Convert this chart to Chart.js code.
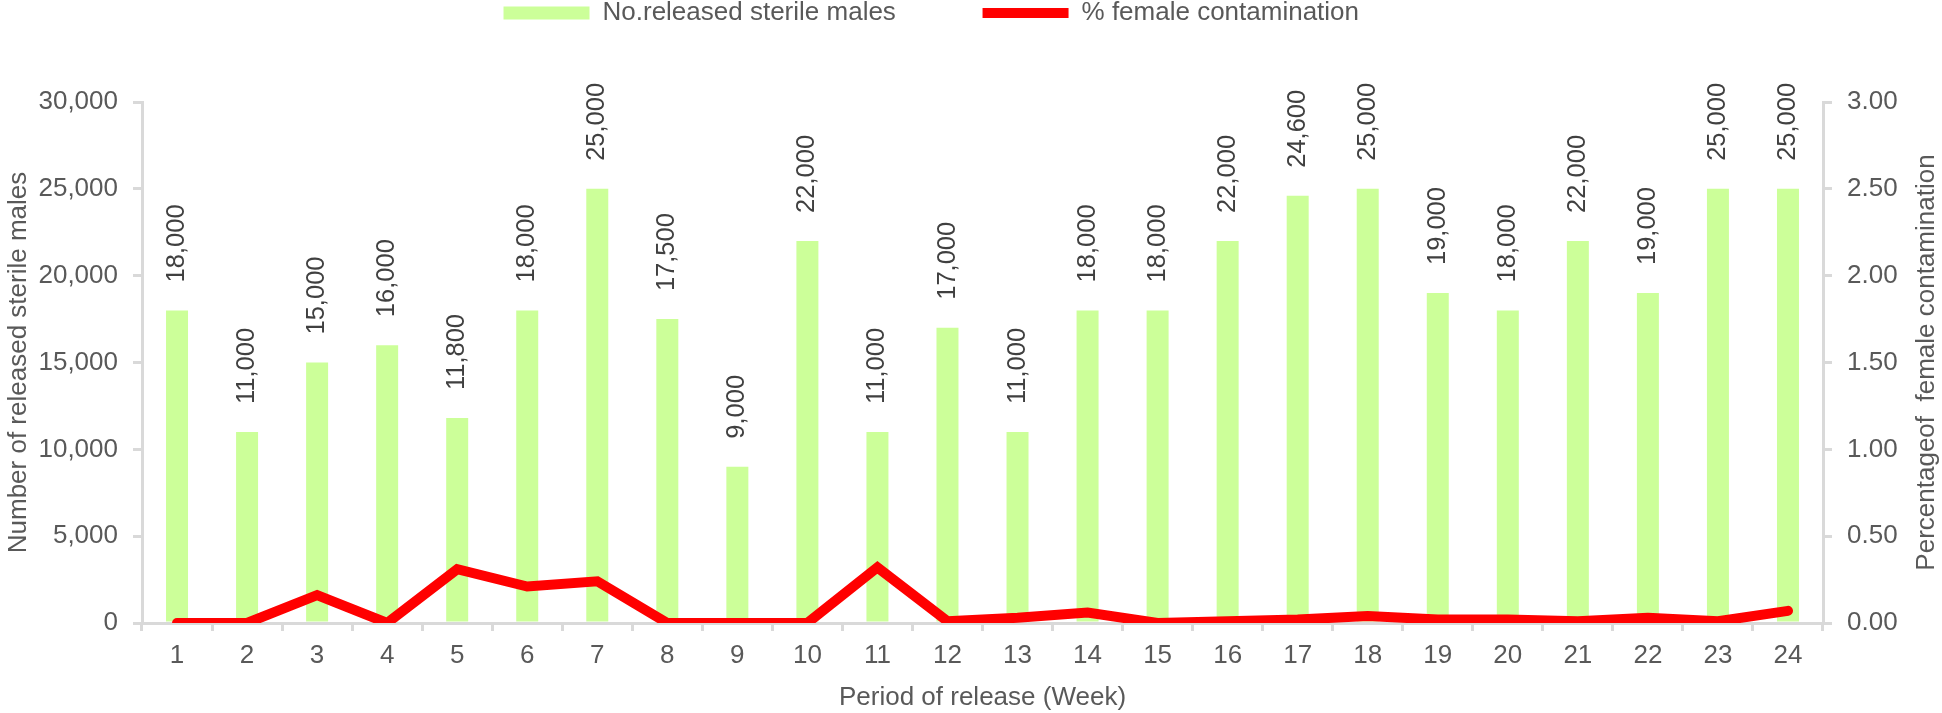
<!DOCTYPE html>
<html>
<head>
<meta charset="utf-8">
<script src="https://cdn.jsdelivr.net/npm/chart.js@4.4.1/dist/chart.umd.min.js"></script>
<style>
  html, body { margin: 0; padding: 0; background: #fff; }
  canvas { display: block; }
</style>
</head>
<body>
<canvas id="releaseChart" width="1942" height="713"></canvas>
<script>
// Weekly release data
const weeks = ['1', '2', '3', '4', '5', '6', '7', '8', '9', '10', '11', '12',
               '13', '14', '15', '16', '17', '18', '19', '20', '21', '22', '23', '24'];
const releasedMales = [18000, 11000, 15000, 16000, 11800, 18000, 25000, 17500, 9000, 22000, 11000, 17000,
                       11000, 18000, 18000, 22000, 24600, 25000, 19000, 18000, 22000, 19000, 25000, 25000];
const femaleContamination = [0, 0, 0.16, 0, 0.31, 0.21, 0.24, 0, 0, 0, 0.32, 0.01,
                             0.03, 0.06, 0, 0.01, 0.02, 0.04, 0.02, 0.02, 0.01, 0.03, 0.01, 0.07];
const seriesNames = ['No.released sterile males', '% female contamination'];

const textColor = '#595959';
const axisColor = '#d9d9d9';
Chart.defaults.font.family = '"Liberation Sans", Arial, Helvetica, sans-serif';
Chart.defaults.font.size = 26;
Chart.defaults.color = textColor;

// value labels above the bars, rotated
const barLabels = {
    id: 'barLabels',
    afterDatasetsDraw(chart) {
        const ctx = chart.ctx;
        const meta = chart.getDatasetMeta(0);
        ctx.save();
        ctx.fillStyle = '#404040';
        ctx.font = '25.5px "Liberation Sans", Arial, sans-serif';
        ctx.textAlign = 'left';
        ctx.textBaseline = 'middle';
        meta.data.forEach((bar, i) => {
            ctx.save();
            ctx.translate(bar.x, bar.y - 28);
            ctx.rotate(-Math.PI / 2);
            ctx.fillText(releasedMales[i].toLocaleString('en-US'), 0, 0);
            ctx.restore();
        });
        ctx.restore();
    }
};

// right axis title reads bottom-to-top like the left one
const rightTitle = {
    id: 'rightTitle',
    afterDraw(chart) {
        const ctx = chart.ctx;
        const scale = chart.scales.y1;
        const area = chart.chartArea;
        ctx.save();
        ctx.fillStyle = textColor;
        ctx.font = '26px "Liberation Sans", Arial, sans-serif';
        ctx.textAlign = 'center';
        ctx.textBaseline = 'middle';
        ctx.translate(scale.right - 15, (area.top + area.bottom) / 2);
        ctx.rotate(-Math.PI / 2);
        ctx.fillText('Percentageof  female contamination', 0, 0);
        ctx.restore();
    }
};

// room between legend and plot
const legendGap = {
    id: 'legendGap',
    beforeInit(chart) {
        const fit = chart.legend.fit;
        chart.legend.fit = function () {
            fit.call(this);
            this.height = 102;
        };
    }
};

new Chart(document.getElementById('releaseChart'), {
    type: 'bar',
    data: {
        labels: weeks,
        datasets: [{
            type: 'bar',
            label: seriesNames[0],
            data: releasedMales,
            backgroundColor: '#ccff99',
            borderWidth: 0,
            categoryPercentage: 1,
            barPercentage: 0.314,
            yAxisID: 'y',
            order: 1
        }, {
            type: 'line',
            label: seriesNames[1],
            data: femaleContamination,
            borderColor: '#ff0000',
            backgroundColor: '#ff0000',
            borderWidth: 10,
            borderCapStyle: 'round',
            borderJoinStyle: 'miter',
            pointRadius: 0,
            tension: 0,
            yAxisID: 'y1',
            order: 0
        }]
    },
    options: {
        responsive: false,
        animation: false,
        layout: { padding: 0 },
        plugins: {
            legend: {
                display: true,
                position: 'top',
                labels: {
                    usePointStyle: true,
                    pointStyleWidth: 86,
                    boxHeight: 13,
                    padding: 0,
                    color: textColor,
                    font: { size: 26 },
                    generateLabels(chart) {
                        const items = Chart.defaults.plugins.legend.labels.generateLabels(chart);
                        items.sort((a, b) => a.datasetIndex - b.datasetIndex);
                        items[0].pointStyle = 'rect';
                        items[0].text += ' '.repeat(12);
                        items[1].pointStyle = 'line';
                        items[1].text += ' '.repeat(11);
                        return items;
                    }
                }
            },
            tooltip: { enabled: false }
        },
        scales: {
            x: {
                offset: true,
                grid: { display: true, drawOnChartArea: false, offset: true, tickLength: 8, color: axisColor, lineWidth: 3 },
                border: { color: axisColor, width: 3 },
                ticks: { color: textColor, padding: 9, font: { size: 26 } },
                title: { display: true, text: 'Period of release (Week)', color: textColor, font: { size: 26 }, padding: 0 },
                afterFit: s => { s.height = 90; }
            },
            y: {
                position: 'left',
                min: 0,
                max: 30000,
                grid: { display: true, drawOnChartArea: false, tickLength: 9, color: axisColor, lineWidth: 3 },
                border: { color: axisColor, width: 3 },
                ticks: {
                    stepSize: 5000,
                    padding: 15,
                    color: textColor,
                    font: { size: 26 },
                    callback: v => v.toLocaleString('en-US')
                },
                title: { display: true, text: 'Number of released sterile males', color: textColor, font: { size: 26 }, padding: { top: 3, bottom: 0 } },
                afterFit: s => { s.width = 142; }
            },
            y1: {
                position: 'right',
                min: 0,
                max: 3,
                grid: { display: true, drawOnChartArea: false, tickLength: 9, color: axisColor, lineWidth: 3 },
                border: { color: axisColor, width: 3 },
                ticks: {
                    stepSize: 0.5,
                    padding: 15,
                    color: textColor,
                    font: { size: 26 },
                    callback: v => v.toFixed(2)
                },
                afterFit: s => { s.width = 119; }
            }
        }
    },
    plugins: [legendGap, barLabels, rightTitle]
});
</script>
</body>
</html>
